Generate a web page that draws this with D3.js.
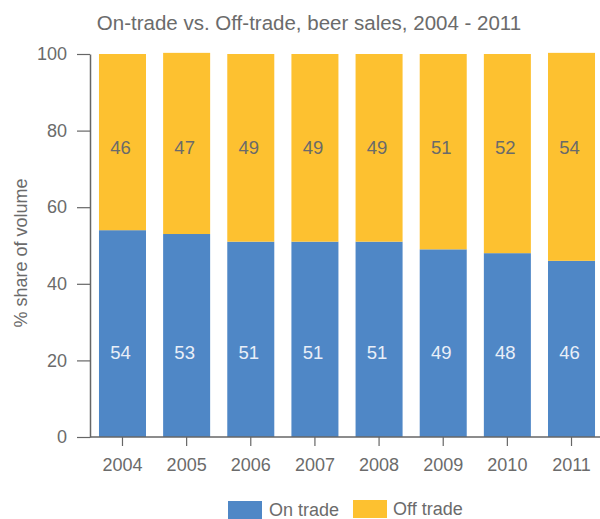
<!DOCTYPE html>
<html>
<head>
<meta charset="utf-8">
<script src="https://cdn.jsdelivr.net/npm/d3@7"></script>
<style>
  body { margin: 0; background: #fff; }
  svg text { font-family: "Liberation Sans", Arial, sans-serif; }
</style>
</head>
<body>
<svg id="chart" width="600" height="519"></svg>
<script>
const years = ["2004", "2005", "2006", "2007", "2008", "2009", "2010", "2011"];
const onTrade = [54, 53, 51, 51, 51, 49, 48, 46];
const offTrade = [46, 47.3, 49, 49, 49, 51, 52, 54.3];
const yTicks = [0, 20, 40, 60, 80, 100];
const seriesNames = ["On trade", "Off trade"];
const colors = ["#4f87c6", "#fdc130"];

const svg = d3.select("#chart");
const x = d3.scaleBand().domain(years).range([90, 604]).paddingInner(0.267).paddingOuter(0.14);
const y = d3.scaleLinear().domain([0, 100]).range([437, 54]);
const txt = "#6b6b6b";

// title
svg.append("text").attr("x", 309).attr("y", 30).attr("text-anchor", "middle")
  .attr("font-size", 20.5).attr("fill", txt).text("On-trade vs. Off-trade, beer sales, 2004 - 2011");

// bars
const rows = years.map((yr, i) => ({ year: yr, on: onTrade[i], off: offTrade[i] }));
svg.append("g").selectAll("rect").data(rows).join("rect")
  .attr("x", d => x(d.year)).attr("width", x.bandwidth())
  .attr("y", d => y(d.on)).attr("height", d => y(0) - y(d.on)).attr("fill", colors[0]);
svg.append("g").selectAll("rect").data(rows).join("rect")
  .attr("x", d => x(d.year)).attr("width", x.bandwidth())
  .attr("y", d => y(d.on + d.off)).attr("height", d => y(d.on) - y(d.on + d.off)).attr("fill", colors[1]);

// value labels
svg.append("g").selectAll("text").data(rows).join("text")
  .attr("x", d => x(d.year) + x.bandwidth() / 2 - 2).attr("y", y(22)).attr("dy", "0.35em")
  .attr("text-anchor", "middle").attr("font-size", 18.5).attr("fill", "#e9eff8")
  .text(d => Math.round(d.on));
svg.append("g").selectAll("text").data(rows).join("text")
  .attr("x", d => x(d.year) + x.bandwidth() / 2 - 2).attr("y", y(75.5)).attr("dy", "0.35em")
  .attr("text-anchor", "middle").attr("font-size", 18.5).attr("fill", "#6a6a6a")
  .text(d => Math.round(d.off));

// y axis
const yAxis = svg.append("g").attr("transform", "translate(90,0)")
  .call(d3.axisLeft(y).tickValues(yTicks).tickSize(13).tickPadding(10).tickSizeOuter(0));
yAxis.select(".domain").attr("stroke", "#666").attr("stroke-width", 1.5);
yAxis.selectAll(".tick line").attr("stroke", "#666").attr("stroke-width", 1.2);
yAxis.selectAll(".tick text").attr("font-size", 18).attr("fill", txt)
  .attr("font-family", "Liberation Sans, Arial, sans-serif");

// x axis
const xAxis = svg.append("g").attr("transform", "translate(0,437)")
  .call(d3.axisBottom(x).tickSize(9).tickPadding(12).tickSizeOuter(0));
xAxis.select(".domain").attr("d", "M90,0H600").attr("stroke", "#666").attr("stroke-width", 1.5);
xAxis.selectAll(".tick line").attr("stroke", "#666").attr("stroke-width", 1.2);
xAxis.selectAll(".tick text").attr("font-size", 18).attr("fill", txt)
  .attr("font-family", "Liberation Sans, Arial, sans-serif");

// y title
svg.append("text").attr("transform", "translate(27,253) rotate(-90)").attr("text-anchor", "middle")
  .attr("font-size", 18).attr("fill", txt).text("% share of volume");

// legend
const legend = [
  { name: seriesNames[0], color: colors[0], rx: 228, ry: 501, tx: 269, ty: 516 },
  { name: seriesNames[1], color: colors[1], rx: 353, ry: 500, tx: 393, ty: 515 }
];
const lg = svg.append("g").selectAll("g").data(legend).join("g");
lg.append("rect").attr("x", d => d.rx).attr("y", d => d.ry).attr("width", 34).attr("height", 18)
  .attr("fill", d => d.color);
lg.append("text").attr("x", d => d.tx).attr("y", d => d.ty).attr("font-size", 18)
  .attr("fill", txt).text(d => d.name);
</script>
</body>
</html>
